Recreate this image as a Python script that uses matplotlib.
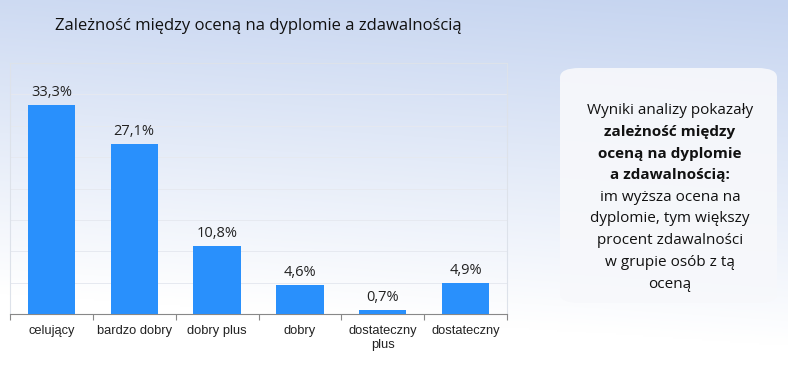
import matplotlib.pyplot as plt
import numpy as np
from matplotlib.patches import FancyBboxPatch

categories = ['celujący', 'bardzo dobry', 'dobry plus', 'dobry', 'dostateczny\nplus', 'dostateczny']
values = [33.3, 27.1, 10.8, 4.6, 0.7, 4.9]
labels = ['33,3%', '27,1%', '10,8%', '4,6%', '0,7%', '4,9%']

title = 'Zależność między oceną na dyplomie a zdawalnością'
note_lines = [
    ('Wyniki analizy pokazały', 'normal'),
    ('zależność między', 'bold'),
    ('oceną na dyplomie', 'bold'),
    ('a zdawalnością:', 'bold'),
    ('im wyższa ocena na', 'normal'),
    ('dyplomie, tym większy', 'normal'),
    ('procent zdawalności', 'normal'),
    ('w grupie osób z tą', 'normal'),
    ('oceną', 'normal'),
]

W, H = 788, 380
fig = plt.figure(figsize=(W / 100, H / 100), dpi=100)

# gradient tło
bg = fig.add_axes([0, 0, 1, 1])
yy = np.linspace(0, 1, 200)[:, None]
xx = np.linspace(0, 1, 400)[None, :]
t = np.clip(yy * 1.1 + (1 - xx) * 0.15, 0, 1)
top = np.array([197, 212, 240]) / 255
bot = np.array([255, 255, 255]) / 255
img = top * (1 - t[..., None]) + bot * t[..., None]
bg.imshow(img, aspect='auto', extent=[0, 1, 0, 1])
bg.set_xlim(0, 1)
bg.set_ylim(0, 1)
bg.axis('off')

# wykres
ax = fig.add_axes([10 / W, 1 - 314 / H, 497 / W, 251 / H])
ax.patch.set_alpha(0)
x = np.arange(len(categories))
ax.bar(x, values, width=0.57, color='#2990fc', zorder=3)
for xi, v, lab in zip(x, values, labels):
    ax.text(xi, v + 0.8, lab, ha='center', va='bottom', fontsize=10.5,
            family='Open Sans', color='#222222')
ax.set_xlim(-0.5, len(categories) - 0.5)
ax.set_ylim(0, 40)
ax.set_yticks(np.arange(5, 40, 5))
ax.yaxis.grid(True, color='#e6e9f0', linewidth=0.7, zorder=0)
ax.tick_params(axis='y', length=0, labelleft=False)
ax.set_xticks(np.arange(-0.5, len(categories), 1))
ax.set_xticklabels([])
ax.set_xticks(x, minor=True)
ax.set_xticklabels(categories, minor=True, fontsize=9.3, family='Liberation Sans',
                   color='#222222', linespacing=1.25)
ax.tick_params(axis='x', which='minor', length=0, pad=8)
ax.tick_params(axis='x', which='major', length=4, color='#888888', direction='out')
for s in ['top', 'left', 'right']:
    ax.spines[s].set_color('#dde2ea')
    ax.spines[s].set_linewidth(0.8)
ax.spines['bottom'].set_color('#888888')

fig.text(258 / W, 1 - 26 / H, title, ha='center', va='center', fontsize=12,
         family='Open Sans', color='#111111')

# ramka z opisem
box = FancyBboxPatch((560 / W, 1 - 303 / H), 217 / W, 235 / H,
                     boxstyle='round,pad=0,rounding_size=0.025',
                     transform=fig.transFigure, facecolor='#f7f8fb',
                     edgecolor='none', alpha=0.92)
fig.patches.append(box)
y0 = 110
for i, (line, weight) in enumerate(note_lines):
    fig.text(670 / W, 1 - (y0 + i * 21.8) / H, line, ha='center', va='center',
             fontsize=11, family='Open Sans', fontweight=weight, color='#111111')

fig.savefig('out.png', dpi=100)
